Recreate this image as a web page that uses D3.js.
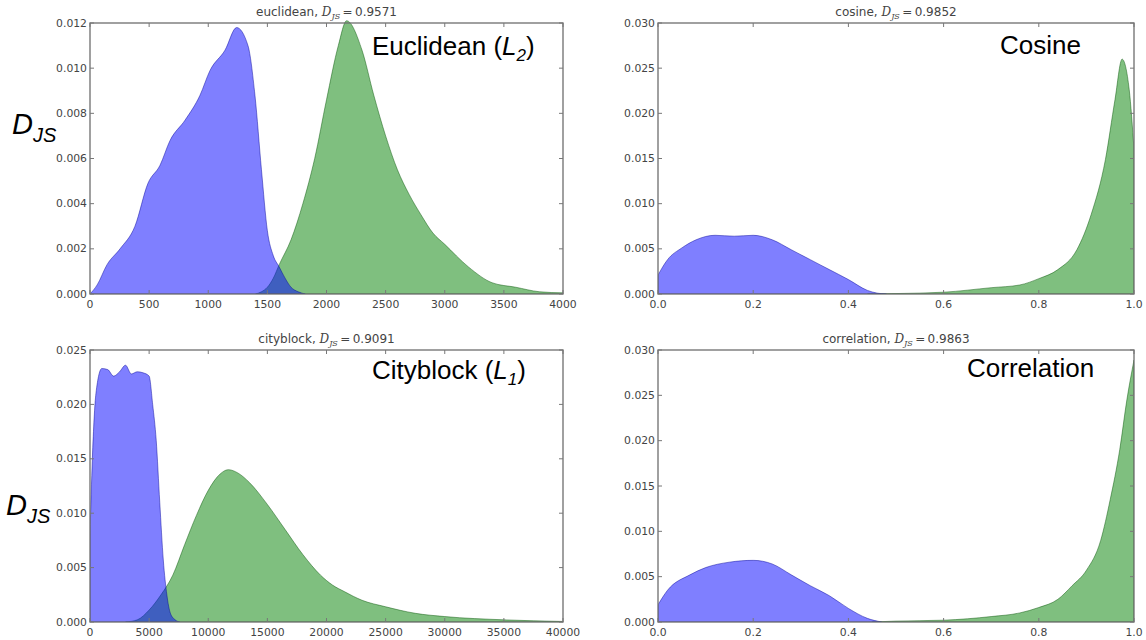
<!DOCTYPE html>
<html>
<head>
<meta charset="utf-8">
<script src="https://cdn.jsdelivr.net/npm/d3@7"></script>
<style>
  html, body { margin: 0; padding: 0; background: #fff; }
  svg { display: block; }
  .tick-label { font-family: "DejaVu Sans", sans-serif; font-size: 10.8px; fill: #444; }
  .title { font-family: "DejaVu Sans", sans-serif; font-size: 12px; fill: #444; }
  .big { font-family: "Liberation Sans", Arial, sans-serif; fill: #000; }
</style>
</head>
<body>
<svg id="chart" width="1146" height="640"></svg>
<script>
// ---- Euclidean (L2) distances ----
const eucBlueX = [0, 60, 144, 254, 380, 490, 592, 677, 804, 930, 1015, 1142, 1240, 1336, 1395, 1450, 1500, 1550, 1600, 1650, 1700, 1760, 1820];
const eucBlueY = [0, 0.0004, 0.0013, 0.0020, 0.0030, 0.0049, 0.0057, 0.0068, 0.0077, 0.0088, 0.0099, 0.0108, 0.0118, 0.0110, 0.0088, 0.0055, 0.0028, 0.0017, 0.0012, 0.0007, 0.0003, 0.0001, 0];
const eucGreenX = [1400, 1450, 1500, 1550, 1600, 1700, 1800, 1900, 2000, 2100, 2170, 2300, 2400, 2500, 2600, 2700, 2800, 2900, 3000, 3200, 3400, 3600, 3800, 4000];
const eucGreenY = [0, 0.0001, 0.0003, 0.0007, 0.0013, 0.0024, 0.0040, 0.0060, 0.0086, 0.0110, 0.0121, 0.0108, 0.0088, 0.0070, 0.0055, 0.0044, 0.0035, 0.0027, 0.0022, 0.0012, 0.0005, 0.0003, 0.0001, 0.00005];

// ---- Cosine similarity ----
const cosBlueX = [0, 0.02, 0.05, 0.08, 0.12, 0.16, 0.20, 0.24, 0.28, 0.32, 0.36, 0.40, 0.44, 0.46, 0.48];
const cosBlueY = [0.0021, 0.0038, 0.0051, 0.0060, 0.0065, 0.0064, 0.0065, 0.0060, 0.0049, 0.0038, 0.0027, 0.0016, 0.0004, 0.0001, 0];
const cosGreenX = [0.44, 0.50, 0.60, 0.70, 0.76, 0.80, 0.84, 0.88, 0.91, 0.94, 0.96, 0.975, 0.99, 1.0];
const cosGreenY = [0, 0.00005, 0.0002, 0.0007, 0.0010, 0.0017, 0.0027, 0.0049, 0.0088, 0.0149, 0.0215, 0.0260, 0.0226, 0.0160];

// ---- Cityblock (L1) distances ----
const cityBlueX = [0, 200, 500, 1000, 1500, 2000, 2500, 3000, 3500, 4000, 4500, 5000, 5300, 5600, 5900, 6200, 6500, 6800, 7200, 7600];
const cityBlueY = [0.008, 0.015, 0.021, 0.0233, 0.0232, 0.0226, 0.0230, 0.0236, 0.0228, 0.0230, 0.0229, 0.0226, 0.0200, 0.0167, 0.0110, 0.0057, 0.0025, 0.0008, 0.0002, 0];
const cityGreenX = [3000, 4000, 5000, 6000, 7000, 8000, 9000, 10000, 11000, 11700, 12500, 13500, 15000, 16500, 18000, 19500, 20500, 21500, 23000, 25000, 27500, 30000, 35000, 40000];
const cityGreenY = [0, 0.0002, 0.0011, 0.0025, 0.0043, 0.0071, 0.0098, 0.0121, 0.0136, 0.0140, 0.0137, 0.0128, 0.0108, 0.0085, 0.0062, 0.0043, 0.0034, 0.0028, 0.0020, 0.0014, 0.0008, 0.0005, 0.0002, 0.00005];

// ---- Correlation similarity ----
const corBlueX = [0, 0.02, 0.067, 0.10, 0.15, 0.20, 0.24, 0.28, 0.32, 0.36, 0.40, 0.44, 0.47];
const corBlueY = [0.0019, 0.0035, 0.0052, 0.0060, 0.0066, 0.0068, 0.0064, 0.0052, 0.0040, 0.0029, 0.0015, 0.0004, 0];
const corGreenX = [0.45, 0.50, 0.60, 0.70, 0.76, 0.80, 0.84, 0.87, 0.90, 0.93, 0.95, 0.97, 0.985, 1.0];
const corGreenY = [0, 0.0001, 0.0002, 0.0006, 0.0010, 0.0016, 0.0025, 0.0040, 0.0057, 0.0090, 0.0135, 0.0190, 0.0245, 0.0289];

// ---- Axis ticks ----
const eucXTicks = [0, 500, 1000, 1500, 2000, 2500, 3000, 3500, 4000];
const eucYTicks = [0, 0.002, 0.004, 0.006, 0.008, 0.010, 0.012];
const simXTicks = [0, 0.2, 0.4, 0.6, 0.8, 1.0];
const simYTicks = [0, 0.005, 0.010, 0.015, 0.020, 0.025, 0.030];
const cityXTicks = [0, 5000, 10000, 15000, 20000, 25000, 30000, 35000, 40000];
const cityYTicks = [0, 0.005, 0.010, 0.015, 0.020, 0.025];

const titles = [
  { name: "euclidean", djs: "0.9571" },
  { name: "cosine", djs: "0.9852" },
  { name: "cityblock", djs: "0.9091" },
  { name: "correlation", djs: "0.9863" }
];

const svg = d3.select("#chart");

const panels = [
  { box: [90, 563, 23, 294], xDom: [0, 4000], yDom: [0, 0.012], xTicks: eucXTicks, yTicks: eucYTicks,
    xFmt: d3.format("d"), yFmt: d3.format(".3f"),
    blue: [eucBlueX, eucBlueY], green: [eucGreenX, eucGreenY], title: titles[0] },
  { box: [658, 1134, 23, 294], xDom: [0, 1], yDom: [0, 0.030], xTicks: simXTicks, yTicks: simYTicks,
    xFmt: d3.format(".1f"), yFmt: d3.format(".3f"),
    blue: [cosBlueX, cosBlueY], green: [cosGreenX, cosGreenY], title: titles[1] },
  { box: [90, 563, 350, 622], xDom: [0, 40000], yDom: [0, 0.025], xTicks: cityXTicks, yTicks: cityYTicks,
    xFmt: d3.format("d"), yFmt: d3.format(".3f"),
    blue: [cityBlueX, cityBlueY], green: [cityGreenX, cityGreenY], title: titles[2] },
  { box: [658, 1134, 350, 622], xDom: [0, 1], yDom: [0, 0.030], xTicks: simXTicks, yTicks: simYTicks,
    xFmt: d3.format(".1f"), yFmt: d3.format(".3f"),
    blue: [corBlueX, corBlueY], green: [corGreenX, corGreenY], title: titles[3] }
];

panels.forEach(p => {
  const [x0, x1, y0, y1] = p.box;
  const x = d3.scaleLinear().domain(p.xDom).range([x0, x1]);
  const y = d3.scaleLinear().domain(p.yDom).range([y1, y0]);
  const g = svg.append("g");

  const clipId = "clip" + x0 + "_" + y0;
  svg.append("clipPath").attr("id", clipId)
    .append("rect").attr("x", x0).attr("y", y0 - 3).attr("width", x1 - x0).attr("height", y1 - y0 + 3);

  const area = d3.area()
    .x(d => x(d[0])).y0(y(0)).y1(d => y(d[1]))
    .curve(d3.curveMonotoneX);

  const series = [
    { data: d3.zip(p.green[0], p.green[1]), fill: "rgb(0,128,0)", stroke: "rgb(0,80,0)" },
    { data: d3.zip(p.blue[0], p.blue[1]), fill: "rgb(0,0,255)", stroke: "rgb(0,0,150)" }
  ];
  const plot = g.append("g").attr("clip-path", `url(#${clipId})`);
  series.forEach(s => {
    plot.append("path")
      .attr("d", area(s.data))
      .attr("fill", s.fill)
      .attr("fill-opacity", 0.5)
      .attr("stroke", s.stroke)
      .attr("stroke-opacity", 0.45)
      .attr("stroke-width", 1);
  });

  // frame
  g.append("rect")
    .attr("x", x0).attr("y", y0).attr("width", x1 - x0).attr("height", y1 - y0)
    .attr("fill", "none").attr("stroke", "#6e6e6e").attr("stroke-width", 1.3);

  // inward ticks on all four sides
  const tickLen = 4;
  p.xTicks.forEach(t => {
    const px = x(t);
    g.append("line").attr("x1", px).attr("x2", px).attr("y1", y1).attr("y2", y1 - tickLen).attr("stroke", "#777");
    g.append("line").attr("x1", px).attr("x2", px).attr("y1", y0).attr("y2", y0 + tickLen).attr("stroke", "#777");
    g.append("text").attr("class", "tick-label")
      .attr("x", px).attr("y", y1 + 14).attr("text-anchor", "middle")
      .text(p.xFmt(t));
  });
  p.yTicks.forEach(t => {
    const py = y(t);
    g.append("line").attr("x1", x0).attr("x2", x0 + tickLen).attr("y1", py).attr("y2", py).attr("stroke", "#777");
    g.append("line").attr("x1", x1).attr("x2", x1 - tickLen).attr("y1", py).attr("y2", py).attr("stroke", "#777");
    g.append("text").attr("class", "tick-label")
      .attr("x", x0 - 3).attr("y", py + 3.5).attr("text-anchor", "end")
      .text(p.yFmt(t));
  });

  // panel title: name, D_JS = value
  const title = g.append("text").attr("class", "title")
    .attr("x", (x0 + x1) / 2).attr("y", y0 - 7).attr("text-anchor", "middle");
  title.append("tspan").text(p.title.name + ", ");
  title.append("tspan").attr("font-family", "DejaVu Serif, serif").attr("font-style", "italic").text("D");
  title.append("tspan").attr("font-family", "DejaVu Serif, serif").attr("font-style", "italic")
    .attr("font-size", "8px").attr("dy", 3).text("JS");
  title.append("tspan").attr("dy", -3).text("\u2009=\u20090" + p.title.djs.slice(1));
});

// large annotation labels
function bigLabel(xp, yp, main, sub, tail) {
  const t = svg.append("text").attr("class", "big").attr("x", xp).attr("y", yp).attr("font-size", "26px");
  t.append("tspan").text(main);
  if (sub) {
    t.append("tspan").attr("font-style", "italic").text("L");
    t.append("tspan").attr("font-style", "italic").attr("font-size", "17px").attr("dy", 6).text(sub);
    t.append("tspan").attr("dy", -6).text(tail);
  }
}
bigLabel(372, 55, "Euclidean (", "2", ")");
bigLabel(1000, 54, "Cosine");
bigLabel(372, 379, "Cityblock (", "1", ")");
bigLabel(967, 377, "Correlation");

// D_JS axis annotations
function djsLabel(xp, yp) {
  const t = svg.append("text").attr("class", "big").attr("x", xp).attr("y", yp)
    .attr("font-size", "29px").attr("font-style", "italic");
  t.append("tspan").text("D");
  t.append("tspan").attr("font-size", "20px").attr("dy", 8).text("JS");
}
djsLabel(12, 134);
djsLabel(6, 515);
</script>
</body>
</html>
